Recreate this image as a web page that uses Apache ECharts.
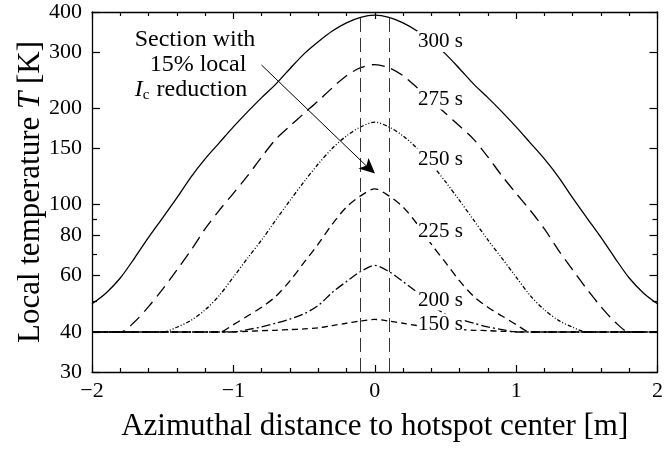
<!DOCTYPE html>
<html><head><meta charset="utf-8">
<script src="https://cdn.jsdelivr.net/npm/echarts@6/dist/echarts.min.js"></script>
<style>html,body{margin:0;padding:0;background:#fff}#c{width:666px;height:450px}</style>
</head><body><div id="c"></div>
<script>
const xValues = [-2.0,-1.9,-1.8,-1.7,-1.6,-1.5,-1.4,-1.3,-1.2,-1.1,-1.0,-0.9,-0.8,-0.7,-0.6,-0.5,-0.4,-0.3,-0.2,-0.1,0,
  0.1,0.2,0.3,0.4,0.5,0.6,0.7,0.8,0.9,1.0,1.1,1.2,1.3,1.4,1.5,1.6,1.7,1.8,1.9,2.0];
const t300 = [49,53,59,68,79,91,105,122,139,156,175,195,216,238,266,296,323,349,370,385,391,
  385,370,349,323,296,266,238,216,195,175,156,139,122,105,91,79,68,59,53,49];
const t275 = [40,40,40,43,48,54.5,62.5,72,84,96,108.5,123,141,160,176,193,211,232,253,268,274,
  268,253,232,211,193,176,160,141,123,108.5,96,84,72,62.5,54.5,48,43,40,40,40];
const t250 = [40,40,40,40,40,40,41.4,43.5,46.9,52,59.4,68,77.6,89.5,103,118,134,150,164,175,181,
  175,164,150,134,118,103,89.5,77.6,68,59.4,52,46.9,43.5,41.4,40,40,40,40,40,40];
const t225 = [40,40,40,40,40,40,40,40,40,40,42.2,44.9,47.8,51.7,57.8,66,75.3,87,98.3,106.5,112,
  106.5,98.3,87,75.3,66,57.8,51.7,47.8,44.9,42.2,40,40,40,40,40,40,40,40,40,40];
const t200 = [40,40,40,40,40,40,40,40,40,40,40,40.7,41.5,42.6,43.9,45.6,48.4,53.2,57.5,61.8,64.6,
  61.8,57.5,53.2,48.4,45.6,43.9,42.6,41.5,40.7,40,40,40,40,40,40,40,40,40,40,40];
const t150 = [40,40,40,40,40,40,40,40,40,40,40.1,40.2,40.4,40.5,40.7,40.9,41.2,41.9,42.6,43.3,43.8,
  43.3,42.6,41.9,41.2,40.9,40.7,40.5,40.4,40.2,40.1,40,40,40,40,40,40,40,40,40,40];
const seriesNames = ['300 s','275 s','250 s','225 s','200 s','150 s'];
const sectionBounds = [-0.1, 0.1];
const xTicks = [-2,-1,0,1,2];
const yTicks = [30,40,60,80,100,150,200,300,400];
const yMinorTicks = [50,70,90];

const FONT = '"Liberation Serif","Times New Roman",serif';
const chart = echarts.init(document.getElementById('c'), null, {renderer:'canvas'});
function pairs(ys){ return xValues.map((x,i)=>[x, ys[i]]); }
const dashes = {
  '300 s':'solid',
  '275 s':[13,7],
  '250 s':[4,2,1,2,1,2],
  '225 s':[8,5],
  '200 s':[9,3,2,3],
  '150 s':[6,4]
};
const allData = [t300,t275,t250,t225,t200,t150];
const series = seriesNames.map((n,i)=>({
  name:n, type:'line', xAxisIndex:0, yAxisIndex:0,
  data:pairs(allData[i]), showSymbol:false, smooth:0.3,
  lineStyle:{color:'#000', width:1.3, type:dashes[n]},
  animation:false
}));
series[0].markLine = {
  silent:true, symbol:'none', animation:false,
  label:{show:false},
  lineStyle:{color:'#333', width:1, type:[14,6]},
  data: sectionBounds.map(v=>({xAxis:v}))
};
const xBase = {type:'value', min:xTicks[0], max:xTicks[xTicks.length-1], interval:1, gridIndex:0,
  axisLine:{show:true, onZero:false, lineStyle:{color:'#000', width:1.3}},
  axisTick:{show:true, inside:true, length:7, lineStyle:{color:'#000', width:1.2}},
  minorTick:{show:true, splitNumber:5, length:4, lineStyle:{color:'#000', width:1.2}},
  splitLine:{show:false}, minorSplitLine:{show:false}};
const yBase = {type:'log', logBase:10, min:yTicks[0], max:yTicks[yTicks.length-1], gridIndex:0,
  splitLine:{show:false}, minorTick:{show:false}};
chart.setOption({
  animation:false,
  backgroundColor:'#fff',
  grid:{left:92, right:7, top:12, bottom:78},
  xAxis:[
    Object.assign({}, xBase, {position:'bottom',
      axisLabel:{show:true, margin:8, color:'#000', fontFamily:FONT, fontSize:22,
        formatter:v=> v<0 ? '\u2212'+Math.abs(v) : String(v)},
      name:'Azimuthal distance to hotspot center [m]', nameLocation:'middle', nameGap:39,
      nameMoveOverlap:false,
      nameTextStyle:{color:'#000', fontFamily:FONT, fontSize:31}}),
    Object.assign({}, xBase, {position:'top', axisLabel:{show:false}})
  ],
  yAxis:[
    Object.assign({}, yBase, {position:'left',
      axisLine:{show:true, onZero:false, lineStyle:{color:'#000', width:1.3}},
      axisTick:{show:true, inside:true, length:8, customValues:yTicks, lineStyle:{color:'#000', width:1.2}},
      axisLabel:{show:true, margin:10, color:'#000', fontFamily:FONT, fontSize:22, customValues:yTicks},
      name:'Local temperature {i|T} [K]', nameLocation:'middle', nameGap:46,
      nameMoveOverlap:false,
      nameTextStyle:{color:'#000', fontFamily:FONT, fontSize:31,
        rich:{i:{fontStyle:'italic', fontFamily:FONT, fontSize:31, color:'#000'}}}}),
    Object.assign({}, yBase, {position:'left',
      axisLine:{show:false, onZero:false},
      axisTick:{show:true, inside:true, length:5, customValues:yMinorTicks, lineStyle:{color:'#000', width:1.2}},
      axisLabel:{show:false}}),
    Object.assign({}, yBase, {position:'right',
      axisLine:{show:true, onZero:false, lineStyle:{color:'#000', width:1.3}},
      axisTick:{show:true, inside:true, length:8, customValues:yTicks, lineStyle:{color:'#000', width:1.2}},
      axisLabel:{show:false}}),
    Object.assign({}, yBase, {position:'right',
      axisLine:{show:false, onZero:false},
      axisTick:{show:true, inside:true, length:5, customValues:yMinorTicks, lineStyle:{color:'#000', width:1.2}},
      axisLabel:{show:false}})
  ],
  series: series,
  graphic: [
    ...[['300 s',41.5],['275 s',99],['250 s',159],['225 s',231.5],['200 s',300],['150 s',324]].map(([t,y])=>({
      type:'text', x:417, y:y, z:100,
      style:{text:t, fill:'#000', font:'21px '+FONT, align:'left', verticalAlign:'middle',
        backgroundColor:'#fff', padding:[0,1,0,1]}
    })),
    {type:'text', x:195, y:40, z:100, style:{text:'Section with', fill:'#000', font:'24px '+FONT, align:'center', verticalAlign:'middle'}},
    {type:'text', x:198, y:65, z:100, style:{text:'15% local', fill:'#000', font:'24px '+FONT, align:'center', verticalAlign:'middle'}},
    {type:'text', x:191, y:90, z:100, style:{text:'{i|I}{s|c} reduction', fill:'#000', font:'24px '+FONT, align:'center', verticalAlign:'middle',
      rich:{i:{fontStyle:'italic', fontSize:24, fontFamily:FONT, lineHeight:26},
            s:{fontSize:15, fontFamily:FONT, verticalAlign:'bottom', lineHeight:26, padding:[0,1,0,0]}}}},
    {type:'line', z:100, shape:{x1:261.5, y1:65, x2:368, y2:167.5}, style:{stroke:'#000', lineWidth:1}},
    {type:'polygon', z:100, shape:{points:[[375,173.5],[358.5,168.5],[366.5,165.5],[368.5,158]]}, style:{fill:'#000'}}
  ]
});
</script></body></html>
